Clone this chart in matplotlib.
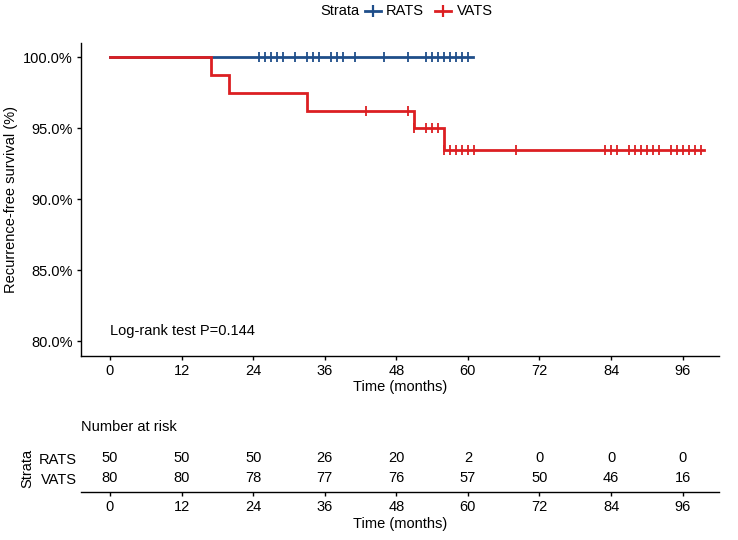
import matplotlib.pyplot as plt
from matplotlib.lines import Line2D

plt.rcParams['font.family'] = ['Liberation Sans', 'DejaVu Sans']

# Kaplan-Meier steps
rats_times = [0]
rats_surv = [1.0]
rats_end = 60.8
rats_censor = [25, 26, 27, 28, 29, 31, 33, 34, 35, 37, 38, 39, 41, 46, 50,
               53, 54, 55, 56, 57, 58, 59, 60]

vats_times = [0, 17, 20, 33, 51, 56]
vats_surv = [1.0, 0.9875, 0.975, 0.9623, 0.950, 0.935]
vats_end = 99.6
vats_censor = [43, 50, 51, 53, 54, 55, 56, 57, 58, 59, 60, 61, 68,
               83, 84, 85, 87, 88, 89, 90, 91, 92, 94, 95, 96, 97, 98, 99]

# number at risk table
risk_breaks = [0, 12, 24, 36, 48, 60, 72, 84, 96]
rats_risk = [50, 50, 50, 26, 20, 2, 0, 0, 0]
vats_risk = [80, 80, 78, 77, 76, 57, 50, 46, 16]

y_ticks = [0.80, 0.85, 0.90, 0.95, 1.00]
y_labels = ['80.0%', '85.0%', '90.0%', '95.0%', '100.0%']

BLUE = '#1f4e8a'
RED = '#dc1f22'
W, H = 738, 540


def box(left, top, right, bottom):
    return [left / W, 1 - bottom / H, (right - left) / W, (bottom - top) / H]


def surv_at(times, surv, t):
    val = surv[0]
    for ti, si in zip(times, surv):
        if t >= ti:
            val = si
    return val


def style_axis(ax):
    for side in ['top', 'right']:
        ax.spines[side].set_visible(False)
    for side in ['left', 'bottom']:
        ax.spines[side].set_linewidth(1.0)
    ax.tick_params(direction='out', length=2.8, width=1.0, labelsize=10.5,
                   colors='black', pad=3)


def legend_key(x, y, col):
    # horizontal line with a small vertical tick, like the ggplot key
    fig.add_artist(Line2D([x / W, (x + 16) / W], [1 - y / H, 1 - y / H],
                          color=col, lw=2, transform=fig.transFigure))
    fig.add_artist(Line2D([(x + 8) / W], [1 - y / H], color=col, marker='|',
                          ms=9, mew=1.6, transform=fig.transFigure))


fig = plt.figure(figsize=(W / 100, H / 100), dpi=100)
xlim = (-4.86, 102.1)

# main survival panel
ax = fig.add_axes(box(81, 43, 719, 355.5))
for times, surv, end, cens, col in [
        (rats_times, rats_surv, rats_end, rats_censor, BLUE),
        (vats_times, vats_surv, vats_end, vats_censor, RED)]:
    ax.step(times + [end], surv + [surv[-1]], where='post', color=col, lw=2.0,
            solid_joinstyle='miter')
    cy = [surv_at(times, surv, t) for t in cens]
    ax.plot(cens, cy, ls='none', marker='|', ms=7, mew=1.3, color=col)

ax.set_xlim(*xlim)
ax.set_ylim(0.79, 1.01)
ax.set_xticks(risk_breaks)
ax.set_yticks(y_ticks)
ax.set_yticklabels(y_labels)
style_axis(ax)
ax.set_xlabel('Time (months)', fontsize=10.5, labelpad=2)
ax.set_ylabel('Recurrence-free survival (%)', fontsize=10.5, labelpad=4)
ax.text(0, 0.8075, 'Log-rank test P=0.144', fontsize=10.5, va='center',
        ha='left')

# legend on top
ly = 11
fig.text(320 / W, 1 - ly / H, 'Strata', fontsize=10.5, va='center', ha='left')
legend_key(365, ly, BLUE)
fig.text(386 / W, 1 - ly / H, 'RATS', fontsize=10.5, va='center', ha='left')
legend_key(435, ly, RED)
fig.text(457 / W, 1 - ly / H, 'VATS', fontsize=10.5, va='center', ha='left')

# risk table
rt = fig.add_axes(box(81, 444, 719, 492))
for xb, r1, r2 in zip(risk_breaks, rats_risk, vats_risk):
    rt.text(xb, 2, str(r1), ha='center', va='center', fontsize=10.5)
    rt.text(xb, 1, str(r2), ha='center', va='center', fontsize=10.5)
rt.set_xlim(*xlim)
rt.set_ylim(0.3, 2.7)
rt.set_xticks(risk_breaks)
rt.set_yticks([2, 1])
rt.set_yticklabels(['RATS', 'VATS'])
for lab, col in zip(rt.get_yticklabels(), [BLUE, RED]):
    lab.set_color(col)
style_axis(rt)
rt.tick_params(axis='y', length=0, labelsize=10.5)
rt.spines['left'].set_visible(False)
rt.set_xlabel('Time (months)', fontsize=10.5, labelpad=2)
rt.set_ylabel('Strata', fontsize=10.5, labelpad=3)
fig.text(81 / W, 1 - 427 / H, 'Number at risk', fontsize=10.5, va='center',
         ha='left')

fig.savefig('out.png', dpi=100)
